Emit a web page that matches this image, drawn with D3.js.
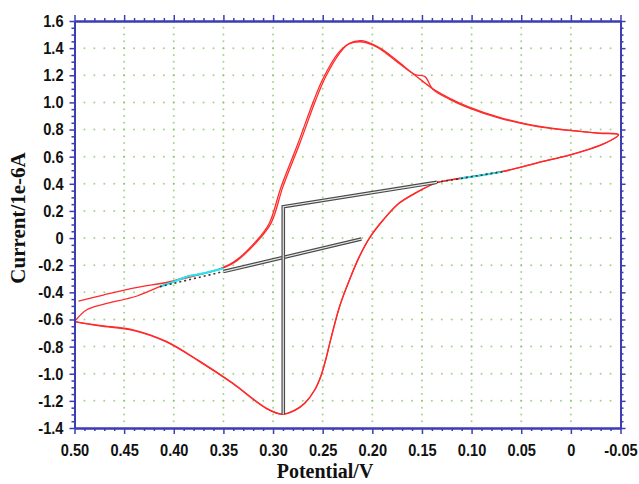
<!DOCTYPE html>
<html>
<head>
<meta charset="utf-8">
<script src="https://cdn.jsdelivr.net/npm/d3@7"></script>
<style>
  html, body { margin: 0; padding: 0; background: #fff; }
  svg { display: block; }
</style>
</head>
<body>
<script>
// Axis ticks and their printed labels
const potentialTicks = [0.50, 0.45, 0.40, 0.35, 0.30, 0.25, 0.20, 0.15, 0.10, 0.05, 0, -0.05];
const potentialLabels = ["0.50", "0.45", "0.40", "0.35", "0.30", "0.25", "0.20", "0.15", "0.10", "0.05", "0", "-0.05"];
const currentTicks = [1.6, 1.4, 1.2, 1.0, 0.8, 0.6, 0.4, 0.2, 0, -0.2, -0.4, -0.6, -0.8, -1.0, -1.2, -1.4];
const currentLabels = ["1.6", "1.4", "1.2", "1.0", "0.8", "0.6", "0.4", "0.2", "0", "-0.2", "-0.4", "-0.6", "-0.8", "-1.0", "-1.2", "-1.4"];

// Cyclic voltammogram, first cycle: [potential V, current 1e-6 A]
const cycle1 = [
  [0.500, -0.616], [0.475, -0.648], [0.441, -0.680], [0.408, -0.764], [0.374, -0.911],
  [0.341, -1.070], [0.307, -1.255], [0.291, -1.299], [0.278, -1.270], [0.268, -1.218],
  [0.258, -1.120], [0.252, -1.022], [0.247, -0.899], [0.242, -0.751], [0.233, -0.506],
  [0.223, -0.309], [0.213, -0.137], [0.203, -0.002], [0.189, 0.133], [0.173, 0.256],
  [0.156, 0.333], [0.136, 0.404], [0.119, 0.430], [0.102, 0.450], [0.069, 0.489],
  [0.035, 0.551], [0.001, 0.612], [-0.016, 0.649], [-0.032, 0.690], [-0.048, 0.760],
  [-0.029, 0.772], [0.005, 0.797], [0.039, 0.833], [0.072, 0.890], [0.105, 0.973],
  [0.122, 1.030], [0.139, 1.100], [0.156, 1.195], [0.173, 1.295], [0.189, 1.386],
  [0.200, 1.430], [0.211, 1.455], [0.223, 1.436], [0.233, 1.362], [0.247, 1.189],
  [0.257, 1.018], [0.273, 0.699], [0.290, 0.379], [0.302, 0.110], [0.316, -0.025],
  [0.337, -0.170], [0.350, -0.220], [0.370, -0.260], [0.387, -0.285], [0.414, -0.358],
  [0.437, -0.427], [0.471, -0.488], [0.488, -0.530], [0.500, -0.616]
];

// Second cycle, ending short of the switching potential
const cycle2 = [
  [0.500, -0.616], [0.475, -0.644], [0.441, -0.676], [0.408, -0.760], [0.374, -0.907],
  [0.341, -1.067], [0.307, -1.253], [0.291, -1.297], [0.278, -1.268], [0.268, -1.216],
  [0.258, -1.118], [0.252, -1.020], [0.247, -0.897], [0.242, -0.749], [0.233, -0.504],
  [0.223, -0.307], [0.213, -0.135], [0.203, 0.000], [0.189, 0.135], [0.173, 0.258],
  [0.156, 0.335], [0.136, 0.406], [0.119, 0.432], [0.102, 0.452], [0.069, 0.491],
  [0.035, 0.553], [0.001, 0.614], [-0.016, 0.651], [-0.032, 0.692], [-0.048, 0.764],
  [-0.029, 0.774], [0.005, 0.795], [0.039, 0.829], [0.072, 0.884], [0.105, 0.965],
  [0.122, 1.022], [0.139, 1.096], [0.147, 1.190], [0.157, 1.205], [0.173, 1.287],
  [0.189, 1.378], [0.200, 1.424], [0.212, 1.447], [0.224, 1.430], [0.235, 1.358],
  [0.249, 1.185], [0.259, 1.014], [0.275, 0.695], [0.292, 0.375], [0.304, 0.106],
  [0.318, -0.030], [0.338, -0.168], [0.353, -0.225], [0.370, -0.262], [0.404, -0.322],
  [0.438, -0.366], [0.471, -0.420], [0.496, -0.464]
];

// Baseline fitting windows on the voltammogram
const fitAnodic = [[0.414, -0.358], [0.400, -0.322], [0.387, -0.285], [0.370, -0.260], [0.350, -0.223]];
const fitCathodic = [[0.112, 0.439], [0.102, 0.450], [0.085, 0.469], [0.069, 0.489]];

// Extrapolated baselines and peak-height markers
const baseAnodicFit = [[0.414, -0.358], [0.350, -0.247]];
const baseAnodicExt = [[0.350, -0.247], [0.211, -0.007]];
const baseCathodicFit = [[0.069, 0.489], [0.135, 0.411]];
const baseCathodicExt = [[0.135, 0.411], [0.2897, 0.231], [0.2897, -1.299]];

const W = 639, H = 484;
const svg = d3.select("body").append("svg").attr("width", W).attr("height", H);

const x = d3.scaleLinear().domain([0.5, -0.05]).range([74.5, 620.5]);
const y = d3.scaleLinear().domain([1.6, -1.4]).range([21, 428]);

const axisBlue = "#3c3cb4";
const gridGreen = "#86c463";

// Dotted grid: dots at every minor step along each major line
const xMinor = d3.range(0, 56).map(i => +(0.5 - i * 0.01).toFixed(3));
const yMinor = d3.range(0, 61).map(i => +(1.6 - i * 0.05).toFixed(3));
const grid = svg.append("g");
currentTicks.slice(1, -1).forEach(c => {
  xMinor.slice(1, -1).forEach(p => {
    grid.append("circle").attr("cx", x(p)).attr("cy", y(c)).attr("r", 1).attr("fill", gridGreen).attr("opacity", 0.75);
  });
});
potentialTicks.slice(1, -1).forEach(p => {
  yMinor.slice(1, -1).forEach(c => {
    grid.append("circle").attr("cx", x(p)).attr("cy", y(c)).attr("r", 1).attr("fill", gridGreen).attr("opacity", 0.75);
  });
});

const line = d3.line().x(d => x(d[0])).y(d => y(d[1]));
const smooth = d3.line().x(d => x(d[0])).y(d => y(d[1])).curve(d3.curveCatmullRom.alpha(0.5));

// Voltammogram cycles
[cycle1, cycle2].forEach(cyc => {
  svg.append("path").datum(cyc).attr("d", smooth)
    .attr("fill", "none").attr("stroke", "#ff2a2a").attr("stroke-width", 1.3)
    .attr("stroke-linejoin", "round");
});

// Fitting windows in cyan
[fitAnodic, fitCathodic].forEach(seg => {
  svg.append("path").datum(seg).attr("d", smooth)
    .attr("fill", "none").attr("stroke", "#22e6f0").attr("stroke-width", 2);
});

// Baselines: dotted over the fit windows, double line when extrapolated
[baseAnodicFit, baseCathodicFit].forEach(seg => {
  svg.append("path").datum(seg).attr("d", line)
    .attr("fill", "none").attr("stroke", "#333").attr("stroke-width", 1.6)
    .attr("stroke-dasharray", "2,3");
});
[baseAnodicExt, baseCathodicExt].forEach(seg => {
  svg.append("path").datum(seg).attr("d", line)
    .attr("fill", "none").attr("stroke", "#4a4a4a").attr("stroke-width", 3.6);
  svg.append("path").datum(seg).attr("d", line)
    .attr("fill", "none").attr("stroke", "#e8e8e8").attr("stroke-width", 1.2);
});

// Axes
const tickFont = "'Liberation Sans', Arial, sans-serif";
const squeeze = 0.86;

function styleAxis(g) {
  g.select(".domain").attr("stroke", axisBlue).attr("stroke-width", 2);
  g.selectAll(".tick line").attr("stroke", axisBlue).attr("stroke-width", 1.5);
}

const xMinorOnly = xMinor.filter((d, i) => i % 5 !== 0);
const yMinorOnly = yMinor.filter((d, i) => i % 4 !== 0);

// bottom
svg.append("g").attr("transform", `translate(0,${y(-1.4)})`)
  .call(d3.axisBottom(x).tickValues(xMinorOnly).tickSize(3).tickSizeOuter(0).tickFormat(""))
  .call(styleAxis);
const xb = svg.append("g").attr("transform", `translate(0,${y(-1.4)})`)
  .call(d3.axisBottom(x).tickValues(potentialTicks).tickSize(6).tickSizeOuter(0)
    .tickFormat((d, i) => potentialLabels[i]))
  .call(styleAxis);
xb.selectAll(".tick text")
  .attr("y", 16).attr("fill", "#111")
  .attr("font-family", tickFont).attr("font-weight", "bold").attr("font-size", 17)
  .attr("transform", `scale(${squeeze},1)`);

// top
svg.append("g").attr("transform", `translate(0,${y(1.6)})`)
  .call(d3.axisTop(x).tickValues(xMinorOnly).tickSize(3).tickSizeOuter(0).tickFormat(""))
  .call(styleAxis);
svg.append("g").attr("transform", `translate(0,${y(1.6)})`)
  .call(d3.axisTop(x).tickValues(potentialTicks).tickSize(6).tickSizeOuter(0).tickFormat(""))
  .call(styleAxis);

// left
svg.append("g").attr("transform", `translate(${x(0.5)},0)`)
  .call(d3.axisLeft(y).tickValues(yMinorOnly).tickSize(3).tickSizeOuter(0).tickFormat(""))
  .call(styleAxis);
const yl = svg.append("g").attr("transform", `translate(${x(0.5)},0)`)
  .call(d3.axisLeft(y).tickValues(currentTicks).tickSize(5).tickSizeOuter(0)
    .tickFormat((d, i) => currentLabels[i]))
  .call(styleAxis);
yl.selectAll(".tick text")
  .attr("x", -11 / squeeze).attr("fill", "#111")
  .attr("font-family", tickFont).attr("font-weight", "bold").attr("font-size", 17)
  .attr("transform", `scale(${squeeze},1)`);

// right
svg.append("g").attr("transform", `translate(${x(-0.05)},0)`)
  .call(d3.axisRight(y).tickValues(yMinorOnly).tickSize(3).tickSizeOuter(0).tickFormat(""))
  .call(styleAxis);
svg.append("g").attr("transform", `translate(${x(-0.05)},0)`)
  .call(d3.axisRight(y).tickValues(currentTicks).tickSize(5).tickSizeOuter(0).tickFormat(""))
  .call(styleAxis);

// Axis titles
const titleFont = "'Liberation Serif', 'Times New Roman', serif";
svg.append("text")
  .attr("x", 325).attr("y", 478)
  .attr("text-anchor", "middle")
  .attr("font-family", titleFont).attr("font-weight", "bold").attr("font-size", 20)
  .attr("fill", "#111")
  .text("Potential/V");
svg.append("text")
  .attr("transform", "translate(25,218) rotate(-90)")
  .attr("text-anchor", "middle")
  .attr("font-family", titleFont).attr("font-weight", "bold").attr("font-size", 21)
  .attr("fill", "#111")
  .text("Current/1e-6A");
</script>
</body>
</html>
